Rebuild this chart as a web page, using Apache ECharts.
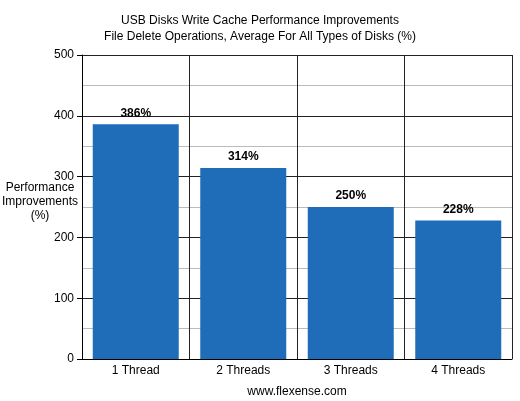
<!DOCTYPE html><html><head><meta charset="utf-8"><script src="https://cdn.jsdelivr.net/npm/echarts@6/dist/echarts.min.js"></script></head><body style="margin:0"><div id="c" style="width:520px;height:401px"></div><script>
const categories=['1 Thread','2 Threads','3 Threads','4 Threads'];
const values=[386,314,250,228];
const c=echarts.init(document.getElementById('c'));
c.setOption({animation:false,backgroundColor:'#fff',
title:{text:'USB Disks Write Cache Performance Improvements\nFile Delete Operations, Average For All Types of Disks (%)',left:'center',top:8,textStyle:{fontFamily:'Liberation Sans',fontSize:12,fontWeight:'normal',color:'#000',lineHeight:16}},
graphic:[{type:'text',x:40,y:181,style:{text:'Performance\nImprovements\n(%)',fontFamily:'Liberation Sans',fontSize:12,fill:'#000',align:'center',verticalAlign:'top',lineHeight:14}}],
grid:{left:82,right:8,top:55,bottom:42,outerBoundsMode:'none',containLabel:false},
xAxis:{type:'category',data:categories,name:'www.flexense.com',nameLocation:'middle',nameGap:27,nameTextStyle:{fontFamily:'Liberation Sans',fontSize:12,color:'#000'},axisLine:{lineStyle:{color:'#000'}},axisTick:{show:false},axisLabel:{fontFamily:'Liberation Sans',fontSize:12,color:'#000',margin:6},splitLine:{show:true,lineStyle:{color:'#222'}}},
yAxis:{type:'value',min:0,max:500,interval:100,axisLine:{show:true,lineStyle:{color:'#000'}},axisTick:{show:true,length:5,lineStyle:{color:'#000'}},axisLabel:{fontFamily:'Liberation Sans',fontSize:12,color:'#000'},splitLine:{lineStyle:{color:'#222'}},minorTick:{show:false,splitNumber:2},minorSplitLine:{show:true,lineStyle:{color:'#bbb'}}},
series:[{type:'bar',data:values,barCategoryGap:'20%',itemStyle:{color:'#1f6db8'},label:{show:true,position:'top',formatter:'{c}%',fontFamily:'Liberation Sans',fontWeight:'bold',fontSize:12,color:'#000'}}]});
</script></body></html>
